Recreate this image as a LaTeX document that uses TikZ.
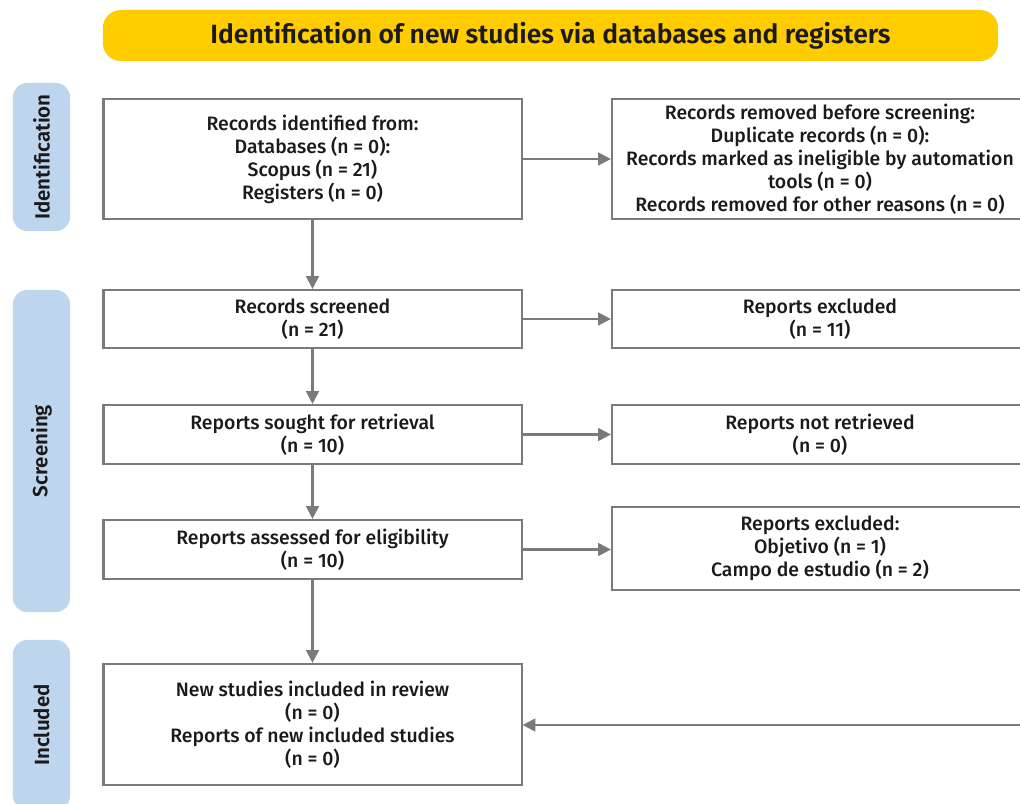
\documentclass[tikz,border=0pt]{standalone}
\usepackage{fontspec}
\setmainfont{Fira Sans}[UprightFont={* Medium}, BoldFont={* SemiBold}]
\usetikzlibrary{arrows.meta}

\definecolor{bannergold}{HTML}{FFCC00}
\definecolor{phaseblue}{HTML}{BED5EE}
\definecolor{linegray}{HTML}{7A7A7A}
\definecolor{inkblack}{HTML}{1A1A1A}

\tikzset{
    flowbox/.style = {draw = linegray, line width = 1.5pt, fill = white, align = center,
        text = inkblack, inner sep = 2pt, font = \fontsize{13.8}{16.3}\selectfont},
    leftbox/.style = {flowbox, minimum width = 10.45cm},
    rightbox/.style = {flowbox, minimum width = 10.4cm},
    phase/.style = {fill = phaseblue, rounded corners = 0.35cm, rotate = 90,
        minimum height = 1.425cm, text = inkblack, font = \bfseries\fontsize{14.6}{17}\selectfont},
    flow/.style = {draw = linegray, line width = 1.5pt, -{Triangle[length = 0.32cm, width = 0.32cm]}}
}

\begin{document}
\begin{tikzpicture}[x = 0.025cm, y = -0.025cm]
            \useasboundingbox (0, 0) rectangle (1020, 803);
            \clip (0, 0) rectangle (1020, 803);
            
            % banner
            \node[fill = bannergold, rounded corners = 0.45cm, minimum width = 22.375cm, minimum height = 1.275cm,
                text = inkblack, font = \bfseries\fontsize{18.8}{22}\selectfont] (banner) at (550.5, 35.5)
                {Identification of new studies via databases and registers};
            
            % phases
            \node[phase, minimum width = 3.7cm] (identification) at (41.5, 157) {Identification};
            \node[phase, minimum width = 8.05cm] (screening) at (41.5, 451) {Screening};
            \node[phase, minimum width = 4.25cm] (included_phase) at (41.5, 725) {Included};
            
            % left column
            \node[leftbox, minimum height = 3cm] (identified) at (312.5, 159)
                {Records identified from:\\Databases (n = 0):\\Scopus (n = 21)\\Registers (n = 0)};
            \node[leftbox, minimum height = 1.45cm] (screened) at (312.5, 319)
                {Records screened\\(n = 21)};
            \node[leftbox, minimum height = 1.475cm] (sought) at (312.5, 434.5)
                {Reports sought for retrieval\\(n = 10)};
            \node[leftbox, minimum height = 1.475cm] (assessed) at (312.5, 549.5)
                {Reports assessed for eligibility\\(n = 10)};
            \node[leftbox, minimum height = 3.025cm] (included) at (312.5, 724.5)
                {New studies included in review\\(n = 0)\\Reports of new included studies\\(n = 0)};
            
            % right column
            \node[rightbox, minimum height = 3cm] (removed) at (820, 159)
                {Records removed before screening:\\Duplicate records (n = 0):\\Records marked as ineligible by automation\\tools (n = 0)\\Records removed for other reasons (n = 0)};
            \node[rightbox, minimum height = 1.45cm] (excluded) at (820, 319)
                {Reports excluded\\(n = 11)};
            \node[rightbox, minimum height = 1.475cm] (not_retrieved) at (820, 434.5)
                {Reports not retrieved\\(n = 0)};
            \node[rightbox, minimum height = 2.075cm] (excluded_reasons) at (820, 548.5)
                {Reports excluded:\\Objetivo (n = 1)\\Campo de estudio (n = 2)};
            
            \coordinate (feed) at (1030, 725);
            
            % connectors
            \draw[flow] (identified) -- (screened);
            \draw[flow] (screened) -- (sought);
            \draw[flow] (sought) -- (assessed);
            \draw[flow] (assessed) -- (included);
            
            \draw[flow] (identified) -- (removed);
            \draw[flow] (screened) -- (excluded);
            \draw[flow] (sought) -- (not_retrieved);
            \draw[flow] (assessed.east) -- (assessed.east -| excluded_reasons.west);
            \draw[flow] (feed) -- (feed -| included.east);
        \end{tikzpicture}
\end{document}
